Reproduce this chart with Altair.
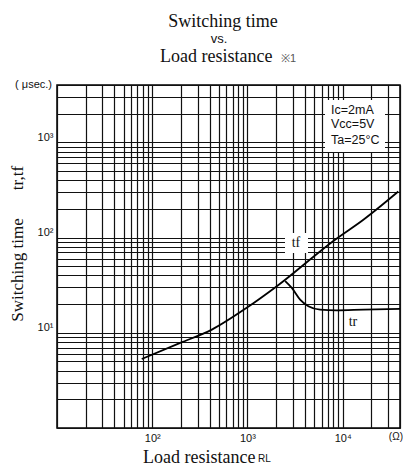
import altair as alt
import pandas as pd

# ---- data ----
tf_r = [77.6, 197, 423, 1000, 2034, 8318, 16500, 38400]
tf_t = [5.3, 7.83, 10.8, 18.5, 30.8, 95, 154, 305]

tr_r = [2490, 2924, 3573, 4365, 5794, 8670, 16500, 40000]
tr_t = [34.9, 29.6, 22.3, 19.0, 17.5, 17.2, 17.5, 17.8]

x_domain = [10, 40000]
y_domain = [1, 4000]
x_grid = [m * d for d in [10, 100, 1000] for m in range(1, 10)] + [10000, 20000, 30000, 40000]
y_grid = [m * d for d in [1, 10, 100] for m in range(1, 10)] + [1000, 2000, 3000, 4000]

conditions = ["Ic=2mA", "Vcc=5V", "Ta=25°C"]

SANS = "Liberation Sans"
SERIF = "Liberation Serif"

tf_df = pd.DataFrame({"R": tf_r, "t": tf_t})
tr_df = pd.DataFrame({"R": tr_r, "t": tr_t})
one = pd.DataFrame({"a": [0]})

xscale = alt.Scale(type="log", domain=x_domain, nice=False)
yscale = alt.Scale(type="log", domain=y_domain, nice=False)

xaxis = alt.Axis(
    values=x_grid, title=None, tickSize=0, domain=False, grid=True,
    gridColor="#111", gridWidth=1.2, gridOpacity=1,
    labelExpr="datum.value == 100 ? '10²' : datum.value == 1000 ? '10³' : datum.value == 10000 ? '10⁴' : ''",
    labelFont=SANS, labelFontSize=11, labelColor="#111", labelPadding=4,
    labelOverlap=False, labelFlush=False,
)
yaxis = alt.Axis(
    values=y_grid, title=None, tickSize=0, domain=False, grid=True,
    gridColor="#111", gridWidth=1.2, gridOpacity=1,
    labelExpr="datum.value == 10 ? '10¹' : datum.value == 100 ? '10²' : datum.value == 1000 ? '10³' : ''",
    labelFont=SANS, labelFontSize=11, labelColor="#111", labelPadding=4,
    labelOverlap=False, labelBaseline="bottom",
)

tf_line = alt.Chart(tf_df).mark_line(color="black", strokeWidth=1.8, interpolate="monotone").encode(
    x=alt.X("R:Q", scale=xscale, axis=xaxis),
    y=alt.Y("t:Q", scale=yscale, axis=yaxis),
)
tr_line = alt.Chart(tr_df).mark_line(color="black", strokeWidth=1.8, interpolate="monotone").encode(
    x=alt.X("R:Q", scale=xscale, axis=xaxis),
    y=alt.Y("t:Q", scale=yscale, axis=yaxis),
)

def box(x1, x2, y1, y2):
    return alt.Chart(one).mark_rect(color="white").encode(
        x=alt.value(x1), x2=alt.value(x2), y=alt.value(y1), y2=alt.value(y2))

def txt(s, x, y, font=SANS, size=12, align="left", baseline="alphabetic", angle=0, color="#111"):
    return alt.Chart(one).mark_text(
        text=s, font=font, fontSize=size, align=align, baseline=baseline, angle=angle, color=color
    ).encode(x=alt.value(x), y=alt.value(y))

cond_box = box(268, 328, 15, 67)
tf_box = box(228, 251, 148, 168)

texts = [
    txt("Switching time", 166, -58, font=SERIF, size=18, align="center"),
    txt("vs.", 162, -42, size=13, align="center"),
    txt("Load resistance", 103, -23, font=SERIF, size=18),
    txt("※1", 224, -23, size=11, color="#555"),
    txt("( μsec.)", -5, 3, size=11, align="right"),
    txt(conditions[0], 274, 29, size=12.5),
    txt(conditions[1], 274, 43, size=12.5),
    txt(conditions[2], 274, 59, size=12.5),
    txt("tf", 239, 162, font=SERIF, size=14, align="center"),
    txt("tr", 296, 241, font=SERIF, size=14, align="center"),
    txt("(Ω)", 346, 355, size=10, align="right"),
    txt("Load resistance", 86, 378, font=SERIF, size=18),
    txt("RL", 201, 377, size=10),
    txt("Switching time", -39, 185, font=SERIF, size=17, align="center", baseline="middle", angle=270),
    txt("tr,tf", -39, 93, font=SERIF, size=17, align="center", baseline="middle", angle=270),
]

chart = alt.layer(cond_box, tf_box, tf_line, tr_line, *texts).properties(
    width=343, height=343,
    autosize=alt.AutoSizeParams(type="none"),
    padding={"left": 49, "top": 77, "right": 3, "bottom": 39},
    background="white",
).configure_view(stroke="black", strokeWidth=1.5)

chart.save("out.html", embed_options={"renderer": "svg", "actions": False})
